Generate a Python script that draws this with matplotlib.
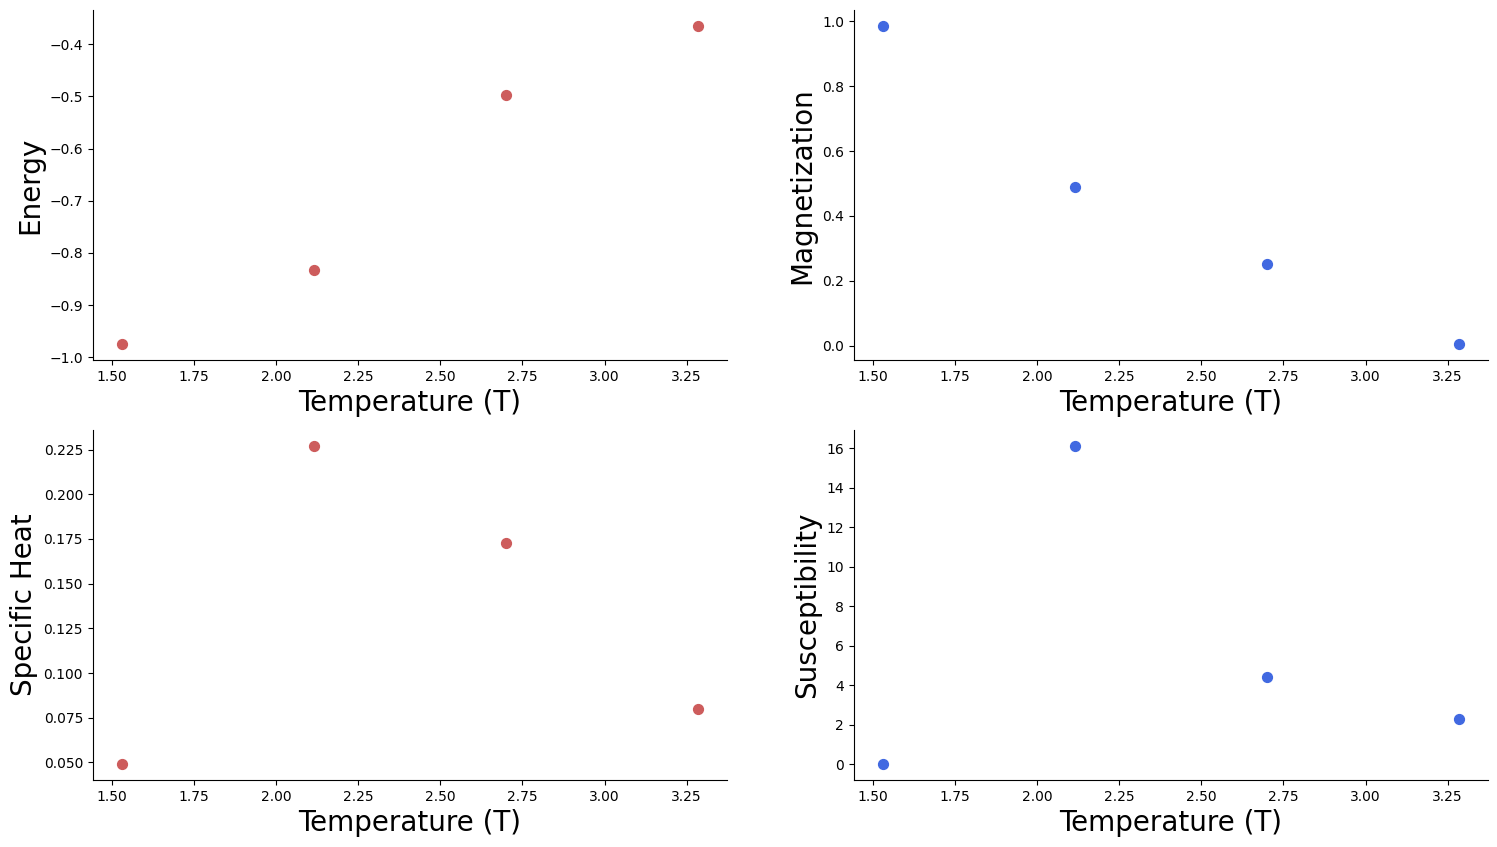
import matplotlib
matplotlib.use("Agg")
import matplotlib.pyplot as plt

temperature = [1.53, 2.115, 2.70, 3.285]
energy = [-0.975, -0.832, -0.497, -0.365]
magnetization = [0.985, 0.49, 0.252, 0.005]
specific_heat = [0.049, 0.227, 0.173, 0.080]
susceptibility = [0.0, 16.1, 4.4, 2.3]

fig, axes = plt.subplots(2, 2, figsize=(14.97, 8.47), dpi=100)
panels = [(energy, "Energy", "indianred"), (magnetization, "Magnetization", "royalblue"),
          (specific_heat, "Specific Heat", "indianred"), (susceptibility, "Susceptibility", "royalblue")]
for ax, (vals, lab, col) in zip(axes.flat, panels):
    ax.scatter(temperature, vals, s=50, color=col)
    ax.set_xlabel("Temperature (T)", fontsize=20)
    ax.set_ylabel(lab, fontsize=20)
    ax.spines["top"].set_visible(False)
    ax.spines["right"].set_visible(False)
fig.subplots_adjust(left=0.062, right=0.994, top=0.988, bottom=0.079, wspace=0.2, hspace=0.2)
fig.savefig("out.png")
